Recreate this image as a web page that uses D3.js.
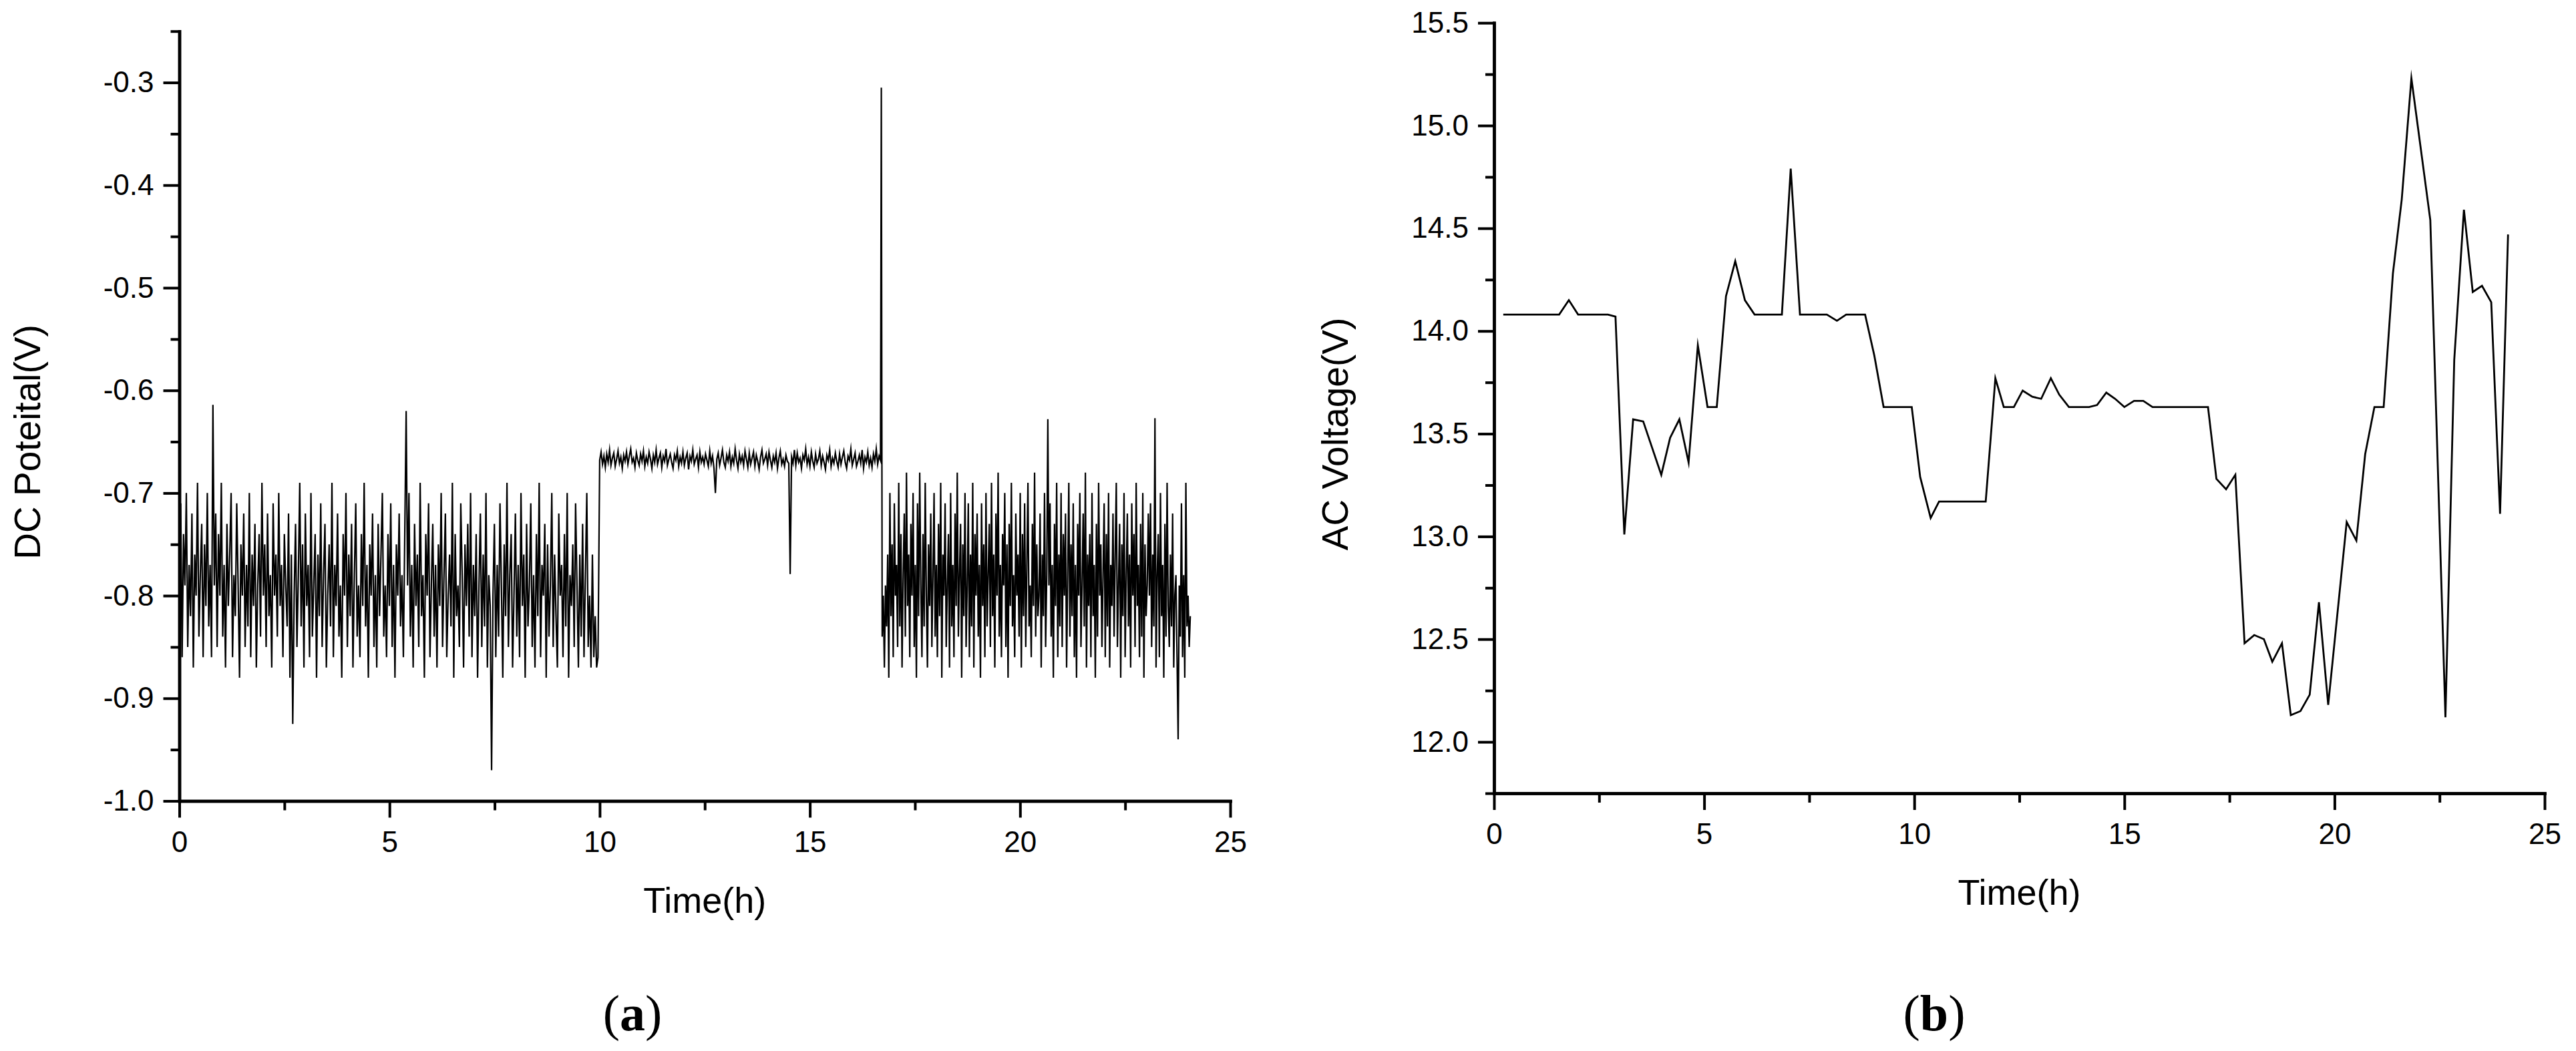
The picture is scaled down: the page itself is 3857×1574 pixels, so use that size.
<!DOCTYPE html>
<html>
<head>
<meta charset="utf-8">
<script src="https://cdn.jsdelivr.net/npm/d3@7"></script>
<style>
html,body{margin:0;padding:0;background:#fff;}
svg{display:block;background:#fff;}
</style>
</head>
<body>
<svg id="chart" width="3857" height="1574"></svg>
<script>
// ---------------- DATA ----------------
// (a) DC potential (V), three sampled stretches read from the picture
const dcSeg1Span = [0.0, 9.96];
const dcSeg1 = [
-.80,-.71,-.86,-.74,-.79,-.70,-.85,-.77,-.82,-.72,
-.87,-.76,-.80,-.69,-.84,-.78,-.73,-.86,-.75,-.81,
-.70,-.83,-.77,-.86,-.614,-.79,-.72,-.85,-.74,-.80,
-.69,-.84,-.77,-.87,-.73,-.81,-.76,-.70,-.86,-.78,
-.82,-.71,-.79,-.88,-.75,-.80,-.72,-.85,-.77,-.83,
-.70,-.86,-.76,-.81,-.73,-.87,-.79,-.74,-.84,-.69,
-.80,-.75,-.85,-.72,-.82,-.78,-.87,-.71,-.80,-.76,
-.84,-.70,-.81,-.77,-.86,-.74,-.79,-.83,-.72,-.88,
-.76,-.925,-.80,-.73,-.85,-.78,-.69,-.83,-.75,-.87,
-.72,-.81,-.77,-.86,-.70,-.84,-.79,-.74,-.88,-.76,
-.82,-.71,-.85,-.78,-.73,-.87,-.80,-.75,-.83,-.69,
-.86,-.77,-.81,-.72,-.84,-.79,-.88,-.74,-.80,-.70,
-.85,-.76,-.82,-.73,-.87,-.78,-.71,-.84,-.79,-.86,
-.74,-.81,-.69,-.83,-.77,-.88,-.75,-.80,-.72,-.85,
-.78,-.87,-.73,-.82,-.76,-.70,-.84,-.79,-.86,-.74,
-.81,-.71,-.85,-.77,-.88,-.75,-.80,-.72,-.83,-.78,
-.86,-.74,-.62,-.79,-.70,-.84,-.77,-.87,-.73,-.81,
-.76,-.85,-.69,-.82,-.78,-.88,-.74,-.80,-.71,-.86,
-.79,-.73,-.84,-.77,-.87,-.75,-.81,-.70,-.85,-.78,
-.72,-.86,-.80,-.76,-.83,-.69,-.88,-.74,-.82,-.79,
-.85,-.71,-.78,-.87,-.75,-.81,-.73,-.84,-.70,-.86,
-.77,-.82,-.74,-.88,-.79,-.72,-.85,-.76,-.83,-.70,
-.87,-.78,-.81,-.97,-.80,-.73,-.86,-.77,-.84,-.71,
-.79,-.88,-.75,-.82,-.69,-.85,-.78,-.74,-.87,-.80,
-.72,-.84,-.77,-.86,-.70,-.81,-.76,-.88,-.73,-.83,
-.79,-.71,-.85,-.78,-.87,-.74,-.82,-.69,-.86,-.77,
-.80,-.73,-.88,-.75,-.84,-.79,-.70,-.85,-.76,-.82,
-.87,-.72,-.80,-.77,-.86,-.74,-.83,-.70,-.88,-.78,
-.81,-.75,-.85,-.71,-.79,-.87,-.76,-.84,-.73,-.86,
-.78,-.70,-.85,-.80,-.87,-.76,-.86,-.82,-.87,-.86
];
const dcSeg2Span = [10.0, 16.68];
const dcSeg2 = [
-.668,-.660,-.672,-.664,-.675,-.662,-.670,-.658,-.673,-.666,
-.661,-.674,-.667,-.659,-.671,-.665,-.676,-.663,-.669,-.660,
-.672,-.664,-.657,-.670,-.666,-.675,-.661,-.668,-.673,-.662,
-.669,-.659,-.674,-.665,-.671,-.660,-.667,-.676,-.663,-.670,
-.658,-.672,-.666,-.661,-.675,-.664,-.669,-.657,-.673,-.667,
-.662,-.670,-.676,-.663,-.668,-.659,-.674,-.665,-.671,-.660,
-.673,-.666,-.661,-.677,-.664,-.669,-.658,-.672,-.667,-.663,
-.675,-.660,-.670,-.665,-.672,-.662,-.668,-.674,-.659,-.671,
-.664,-.676,-.700,-.667,-.661,-.673,-.666,-.658,-.670,-.675,
-.663,-.669,-.660,-.674,-.665,-.671,-.657,-.668,-.676,-.662,
-.670,-.664,-.673,-.659,-.667,-.675,-.661,-.672,-.666,-.660,
-.674,-.663,-.669,-.677,-.665,-.658,-.671,-.667,-.662,-.673,
-.660,-.668,-.675,-.664,-.670,-.661,-.676,-.666,-.659,-.672,
-.667,-.674,-.663,-.669,-.671,-.779,-.665,-.671,-.658,-.673,
-.661,-.670,-.666,-.676,-.663,-.668,-.657,-.672,-.665,-.674,
-.660,-.669,-.675,-.662,-.671,-.667,-.659,-.673,-.664,-.670,
-.677,-.663,-.668,-.658,-.674,-.666,-.671,-.661,-.669,-.675,
-.662,-.672,-.665,-.659,-.670,-.676,-.664,-.668,-.657,-.673,
-.667,-.661,-.674,-.669,-.663,-.671,-.658,-.676,-.665,-.670,
-.660,-.673,-.666,-.675,-.662,-.669,-.657,-.672,-.664,-.668
];
const dcSpikeTime = 16.70;
const dcSpikeValue = -0.305;
const dcSeg3Span = [16.72, 24.05];
const dcSeg3 = [
-.84,-.80,-.87,-.79,-.83,-.76,-.88,-.70,-.82,-.75,
-.86,-.71,-.80,-.77,-.85,-.69,-.83,-.74,-.87,-.78,
-.72,-.84,-.68,-.81,-.76,-.86,-.73,-.80,-.70,-.85,
-.77,-.88,-.71,-.82,-.68,-.79,-.86,-.74,-.83,-.69,
-.80,-.87,-.75,-.81,-.72,-.85,-.78,-.70,-.84,-.77,
-.86,-.73,-.82,-.69,-.88,-.76,-.80,-.71,-.85,-.79,
-.74,-.87,-.70,-.83,-.77,-.86,-.72,-.81,-.68,-.84,
-.78,-.73,-.88,-.75,-.82,-.70,-.85,-.79,-.71,-.86,
-.76,-.83,-.69,-.87,-.74,-.80,-.72,-.84,-.77,-.88,
-.71,-.81,-.75,-.86,-.70,-.83,-.78,-.73,-.85,-.69,
-.82,-.76,-.87,-.72,-.80,-.68,-.84,-.77,-.86,-.74,
-.79,-.70,-.85,-.75,-.88,-.73,-.81,-.69,-.83,-.78,
-.86,-.72,-.80,-.76,-.84,-.70,-.87,-.74,-.82,-.71,
-.85,-.77,-.69,-.83,-.79,-.86,-.73,-.81,-.68,-.84,
-.75,-.82,-.80,-.72,-.87,-.76,-.82,-.70,-.85,-.78,
-.628,-.79,-.71,-.84,-.77,-.88,-.73,-.81,-.69,-.86,
-.76,-.83,-.70,-.85,-.74,-.80,-.72,-.87,-.78,-.69,
-.84,-.75,-.82,-.71,-.86,-.77,-.88,-.73,-.80,-.70,
-.85,-.79,-.72,-.83,-.68,-.87,-.76,-.81,-.74,-.86,
-.70,-.82,-.77,-.88,-.73,-.84,-.69,-.80,-.75,-.85,
-.78,-.71,-.86,-.74,-.83,-.70,-.87,-.77,-.81,-.72,
-.84,-.76,-.69,-.85,-.79,-.73,-.88,-.75,-.82,-.70,
-.86,-.78,-.72,-.83,-.76,-.87,-.71,-.80,-.74,-.85,
-.69,-.81,-.77,-.86,-.73,-.84,-.70,-.88,-.75,-.82,
-.79,-.72,-.80,-.71,-.85,-.76,-.83,-.627,-.87,-.78,
-.74,-.86,-.70,-.82,-.77,-.88,-.73,-.84,-.69,-.81,
-.85,-.76,-.83,-.72,-.87,-.80,-.78,-.86,-.94,-.79,
-.84,-.71,-.86,-.78,-.88,-.69,-.83,-.80,-.85,-.82
];

// (b) AC voltage (V)
const acTime = [0.22,1.55,1.78,2.00,2.71,2.89,3.10,3.31,3.55,3.98,4.19,4.41,4.63,4.85,5.08,5.30,5.52,5.74,5.97,6.20,
6.85,7.06,7.28,7.92,8.16,8.38,8.83,9.05,9.27,9.94,10.14,10.39,10.59,11.70,11.93,12.13,12.37,12.58,12.81,13.02,
13.25,13.45,13.68,14.16,14.35,14.57,14.78,15.00,15.23,15.45,15.67,16.99,17.19,17.42,17.64,17.86,18.09,18.32,18.52,18.75,
18.96,19.19,19.41,19.63,19.85,20.29,20.52,20.73,20.95,21.17,21.39,21.60,21.83,22.28,22.64,22.85,23.08,23.29,23.51,23.73,
23.94,24.13];
const acVoltage = [14.08,14.08,14.15,14.08,14.08,14.07,13.01,13.57,13.56,13.30,13.48,13.57,13.36,13.93,13.63,13.63,14.17,14.34,14.15,14.08,
14.08,14.79,14.08,14.08,14.05,14.08,14.08,13.88,13.63,13.63,13.29,13.09,13.17,13.17,13.77,13.63,13.63,13.71,13.68,13.67,
13.77,13.69,13.63,13.63,13.64,13.70,13.67,13.63,13.66,13.66,13.63,13.63,13.28,13.23,13.30,12.48,12.52,12.50,12.39,12.48,
12.13,12.15,12.23,12.68,12.18,13.07,12.98,13.40,13.63,13.63,14.28,14.64,15.23,14.54,12.12,13.86,14.59,14.19,14.22,14.14,
13.11,14.47];

// ticks / labels
const timeMajorTicks = [0,5,10,15,20,25];
const timeMinorTicks = [2.5,7.5,12.5,17.5,22.5];
const dcMajorTicks = [-1.0,-0.9,-0.8,-0.7,-0.6,-0.5,-0.4,-0.3];
const dcMinorTicks = [-0.95,-0.85,-0.75,-0.65,-0.55,-0.45,-0.35,-0.25];
const acMajorTicks = [12.0,12.5,13.0,13.5,14.0,14.5,15.0,15.5];
const acMinorTicks = [11.75,12.25,12.75,13.25,13.75,14.25,14.75,15.25];
const xTitle = "Time(h)";
const dcTitle = "DC Poteital(V)";
const acTitle = "AC Voltage(V)";

// ---------------- DRAW ----------------
const svg = d3.select("#chart");
svg.append("rect").attr("width",3857).attr("height",1574).attr("fill","#fff");
const SANS = "'Liberation Sans', Arial, Helvetica, sans-serif";
const SERIF = "'Liberation Serif', 'Times New Roman', serif";

function series(spanArr, vals){
  const [t0,t1] = spanArr; const n = vals.length;
  return vals.map((v,i)=>({t: t0 + (t1-t0)*i/(n-1), v}));
}
const dcData = [].concat(
  series(dcSeg1Span, dcSeg1),
  series(dcSeg2Span, dcSeg2),
  [{t: dcSpikeTime, v: dcSpikeValue}],
  series(dcSeg3Span, dcSeg3)
);
const acData = acTime.map((t,i)=>({t, v: acVoltage[i]}));

function panel(cfg){
  const g = svg.append("g");
  const x = d3.scaleLinear().domain([0,25]).range(cfg.xRange);
  const y = d3.scaleLinear().domain(cfg.yDomain).range(cfg.yRange);
  const y0 = cfg.yRange[0];
  const x0 = cfg.xRange[0];

  const line = d3.line().x(d=>x(d.t)).y(d=>y(d.v));
  g.append("path").datum(cfg.data)
    .attr("d", line).attr("fill","none").attr("stroke","#000")
    .attr("stroke-width", cfg.lineWidth).attr("stroke-linejoin","miter").attr("stroke-miterlimit",10);

  const gxMinor = g.append("g").attr("transform",`translate(0,${y0})`)
    .call(d3.axisBottom(x).tickValues(timeMinorTicks).tickSize(14).tickSizeOuter(0).tickFormat(""));
  const gx = g.append("g").attr("transform",`translate(0,${y0})`)
    .call(d3.axisBottom(x).tickValues(timeMajorTicks).tickSize(25).tickSizeOuter(0).tickPadding(20).tickFormat(d3.format("d")));
  const gyMinor = g.append("g").attr("transform",`translate(${x0},0)`)
    .call(d3.axisLeft(y).tickValues(cfg.yMinor).tickSize(13).tickSizeOuter(0).tickFormat(""));
  const gy = g.append("g").attr("transform",`translate(${x0},0)`)
    .call(d3.axisLeft(y).tickValues(cfg.yMajor).tickSize(24).tickSizeOuter(0).tickPadding(14).tickFormat(d=>d.toFixed(1)));

  [gxMinor,gx,gyMinor,gy].forEach(a=>{
    a.attr("font-size",null).attr("font-family",null);
    a.selectAll(".domain").attr("stroke","#000").attr("stroke-width",4.5).attr("stroke-linecap","square");
    a.selectAll(".tick line").attr("stroke","#000").attr("stroke-width",4);
    a.selectAll(".tick text").attr("fill","#000").style("font-family",SANS).style("font-size","44px");
  });

  g.append("text").attr("x",(cfg.xRange[0]+cfg.xRange[1])/2).attr("y", y0+167)
    .attr("text-anchor","middle").style("font-family",SANS).style("font-size","54px").attr("fill","#000")
    .text(xTitle);
  g.append("text").attr("transform",`translate(${cfg.yTitleX},${cfg.yTitleY}) rotate(-90)`)
    .attr("text-anchor","middle").style("font-family",SANS).style("font-size","55px").attr("fill","#000")
    .text(cfg.yTitle);

  const lab = g.append("text").attr("x",cfg.labelX).attr("y",1543).attr("text-anchor","middle")
    .style("font-family",SERIF).style("font-size","76px").attr("fill","#000");
  lab.append("tspan").text("(");
  lab.append("tspan").style("font-weight","bold").text(cfg.letter);
  lab.append("tspan").text(")");
}

panel({
  data: dcData, lineWidth: 2.2,
  xRange: [268.5, 1842], yDomain: [-1.0, -0.25], yRange: [1199.5, 46.7],
  yMajor: dcMajorTicks, yMinor: dcMinorTicks,
  yTitle: dcTitle, yTitleX: 60, yTitleY: 662, labelX: 947, letter: "a"
});
panel({
  data: acData, lineWidth: 2.8,
  xRange: [2237, 3810], yDomain: [11.75, 15.5], yRange: [1188, 34.2],
  yMajor: acMajorTicks, yMinor: acMinorTicks,
  yTitle: acTitle, yTitleX: 2018, yTitleY: 650, labelX: 2896, letter: "b"
});
</script>
</body>
</html>
